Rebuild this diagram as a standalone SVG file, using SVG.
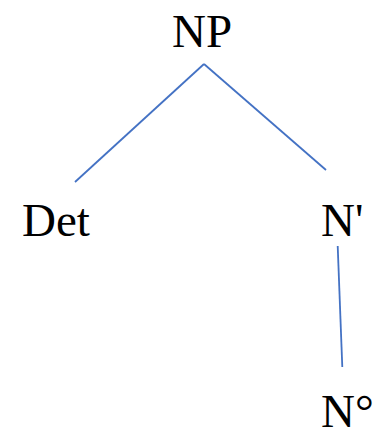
<svg xmlns="http://www.w3.org/2000/svg" width="382" height="436" viewBox="0 0 382 436">
<style>
.lbl{font-family:"Liberation Serif","Times New Roman",serif;font-size:47px;fill:#000}
.edge{stroke:#4472C4;stroke-width:1.8;fill:none}
</style>
<rect width="382" height="436" fill="#fff"/>
<g id="connectors">
<line class="edge" x1="204" y1="64" x2="75" y2="182"/>
<line class="edge" x1="204" y1="64" x2="326" y2="170"/>
<line class="edge" x1="337.7" y1="246" x2="342.3" y2="367"/>
</g>
<g id="node-NP"><text class="lbl" x="172" y="47">NP</text></g>
<g id="node-Det"><text class="lbl" x="22" y="236">Det</text></g>
<g id="node-Nbar"><text class="lbl" x="321" y="236">N'</text></g>
<g id="node-N0"><text class="lbl" x="321" y="427">N°</text></g>
</svg>
